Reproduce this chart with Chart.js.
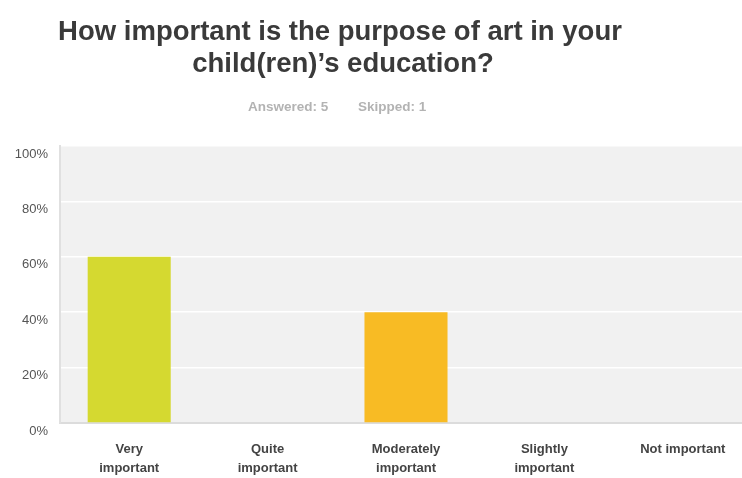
<!DOCTYPE html>
<html>
<head>
<meta charset="utf-8">
<script src="https://cdn.jsdelivr.net/npm/chart.js@4/dist/chart.umd.min.js"></script>
<style>
  html, body { margin: 0; padding: 0; background: #ffffff; overflow: hidden; }
  #wrap { position: absolute; left: 0; top: 0; width: 752px; height: 478px; }
</style>
</head>
<body>
<div id="wrap"><canvas id="c"></canvas></div>
<script>
const titleLines = ["How important is the purpose of art in your", "child(ren)\u2019s education?"];
const answeredText = "Answered: 5";
const skippedText = "Skipped: 1";
const categories = [["Very", "important"], ["Quite", "important"], ["Moderately", "important"], ["Slightly", "important"], ["Not important"]];
const values = [60, 0, 40, 0, 0];
const barColors = ["#d5d930", "#9bc33b", "#f8bb24", "#f29d2f", "#e0663a"];
const yTicks = [0, 20, 40, 60, 80, 100];

const bgPlugin = {
  id: 'bg',
  beforeDraw(chart) {
    const a = chart.chartArea, ctx = chart.ctx;
    ctx.save();
    ctx.fillStyle = '#f1f1f1';
    ctx.fillRect(a.left, a.top, a.right - a.left, a.bottom - a.top);
    ctx.restore();
  },
  afterDraw(chart) {
    const ctx = chart.ctx;
    ctx.save();
    ctx.fillStyle = '#3a3a3a';
    ctx.font = 'bold 27.5px "Liberation Sans", Arial, sans-serif';
    ctx.textAlign = 'center';
    ctx.textBaseline = 'alphabetic';
    ctx.fillText(titleLines[0], 340, 40);
    ctx.fillText(titleLines[1], 343, 72);
    ctx.font = 'bold 13.5px "Liberation Sans", Arial, sans-serif';
    ctx.fillStyle = '#b3b3b3';
    ctx.textAlign = 'left';
    ctx.textBaseline = 'middle';
    ctx.fillText(answeredText, 248, 107);
    ctx.fillText(skippedText, 358, 107);
    ctx.restore();
  }
};

new Chart(document.getElementById('c'), {
  type: 'bar',
  data: {
    labels: categories,
    datasets: [{
      data: values,
      backgroundColor: barColors,
      borderWidth: 0,
      barPercentage: 0.6,
      categoryPercentage: 1.0
    }]
  },
  options: {
    responsive: true,
    maintainAspectRatio: false,
    animation: false,
    layout: { padding: { top: 146, left: 0, right: 0, bottom: 0 } },
    plugins: { legend: { display: false }, tooltip: { enabled: false }, title: { display: false } },
    scales: {
      x: {
        grid: { display: false, drawTicks: false },
        border: { display: true, color: '#dcdcdc', width: 2 },
        ticks: {
          color: '#444444',
          font: { family: '"Liberation Sans", Arial, sans-serif', size: 13, weight: 'bold', lineHeight: 1.45 },
          maxRotation: 0, minRotation: 0, autoSkip: false,
          padding: 17
        },
        afterFit(scale) { scale.height = 55; }
      },
      y: {
        min: 0, max: 100,
        afterBuildTicks(scale) { scale.ticks = yTicks.map(v => ({ value: v })); },
        grid: { color: '#ffffff', lineWidth: 1.5, drawTicks: false },
        border: { display: true, color: '#e0e0e0', width: 2 },
        ticks: {
          color: '#555555',
          font: { family: '"Liberation Sans", Arial, sans-serif', size: 13 },
          padding: 12,
          labelOffset: 8,
          callback: v => v + '%'
        },
        afterFit(scale) { scale.width = 60; }
      }
    }
  },
  plugins: [bgPlugin]
});
</script>
</body>
</html>
